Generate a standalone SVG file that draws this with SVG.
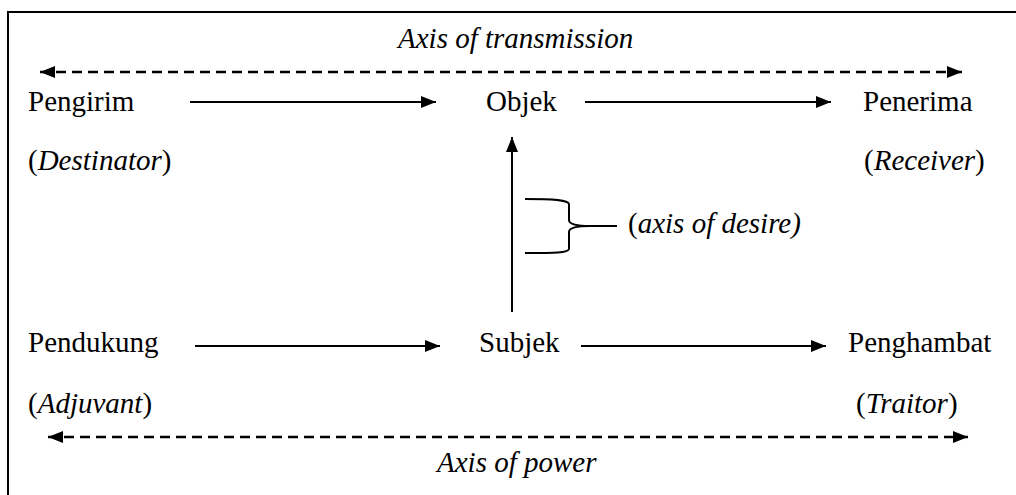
<svg xmlns="http://www.w3.org/2000/svg" width="1016" height="495" viewBox="0 0 1016 495">
<style>
text{font-family:"Liberation Serif","Times New Roman",serif;font-size:29px;fill:#000}
.it{font-style:italic}
.solid{stroke:#000;stroke-width:2;fill:none}
.dash{stroke:#000;stroke-width:2.5;fill:none;stroke-dasharray:10 6}
</style>
<defs>
<marker id="ah" markerWidth="16" markerHeight="12" refX="15" refY="6" orient="auto-start-reverse" markerUnits="userSpaceOnUse">
<path d="M0,0 L15,6 L0,12 Z" fill="#000"/>
</marker>
</defs>
<rect width="1016" height="495" fill="#fff"/>
<g id="frame">
<path d="M8,495 L8,12 L1016,12" stroke="#000" stroke-width="2" fill="none"/>
</g>
<g id="connectors">
<line class="dash" x1="40" y1="72" x2="962" y2="72" marker-start="url(#ah)" marker-end="url(#ah)"/>
<line class="dash" x1="48" y1="437" x2="968" y2="437" marker-start="url(#ah)" marker-end="url(#ah)"/>
<line class="solid" x1="190" y1="102" x2="436" y2="102" marker-end="url(#ah)"/>
<line class="solid" x1="585" y1="102" x2="831" y2="102" marker-end="url(#ah)"/>
<line class="solid" x1="195" y1="346" x2="440" y2="346" marker-end="url(#ah)"/>
<line class="solid" x1="581" y1="346" x2="826" y2="346" marker-end="url(#ah)"/>
<line class="solid" x1="512" y1="312" x2="512" y2="137" marker-end="url(#ah)"/>
<path class="solid" d="M525,199 C555,199 568,200 569,204 L569,220 C569,224 575,226 590,226 L617,226 M590,226 C575,226 569,228 569,232 L569,249 C568,253 555,253 525,253"/>
</g>
<g id="axis-transmission"><text class="it" x="398" y="48">Axis of transmission</text></g>
<g id="axis-power"><text class="it" x="437" y="472">Axis of power</text></g>
<g id="pengirim"><text x="28" y="111">Pengirim</text><text x="28" y="170">(<tspan class="it">Destinator</tspan>)</text></g>
<g id="objek"><text x="486" y="111">Objek</text></g>
<g id="penerima"><text x="863" y="111">Penerima</text><text x="864" y="170">(<tspan class="it">Receiver</tspan>)</text></g>
<g id="axis-desire"><text x="628" y="233">(<tspan class="it">axis of desire)</tspan></text></g>
<g id="pendukung"><text x="28" y="352">Pendukung</text><text x="28" y="413">(<tspan class="it">Adjuvant</tspan>)</text></g>
<g id="subjek"><text x="479" y="352">Subjek</text></g>
<g id="penghambat"><text x="848" y="352">Penghambat</text><text x="856" y="413">(<tspan class="it">Traitor</tspan>)</text></g>
</svg>
